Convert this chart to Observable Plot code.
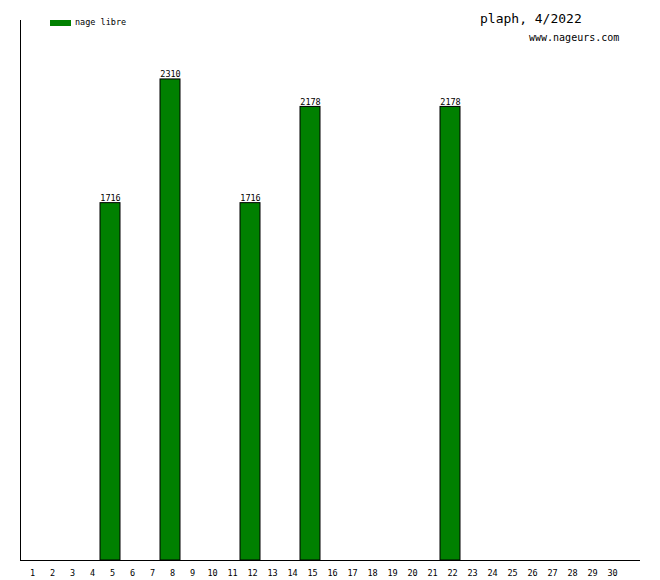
<!DOCTYPE html>
<html>
<head>
<meta charset="utf-8">
<script src="https://cdn.jsdelivr.net/npm/d3@7"></script>
<script src="https://cdn.jsdelivr.net/npm/@observablehq/plot@0.6"></script>
<style>
  body { margin: 0; background: #fff; }
  #wrap { position: relative; width: 660px; height: 580px; font-family: "DejaVu Sans Mono", monospace; }
  #wrap svg { position: absolute; left: 0; top: 0; }
  .ov { position: absolute; white-space: nowrap; color: #000; }
</style>
</head>
<body>
<div id="wrap">
  <div class="ov" style="left:50px;top:20px;width:21px;height:6px;background:#008000;"></div>
  <div class="ov" style="left:75px;top:17px;font-size:8.5px;line-height:10px;">nage libre</div>
  <div class="ov" style="left:480px;top:11px;font-size:13px;line-height:16px;">plaph, 4/2022</div>
  <div class="ov" style="left:529px;top:32px;font-size:10px;line-height:12px;">www.nageurs.com</div>
</div>
<script>
const seriesName = "nage libre";
const days = [5, 8, 12, 15, 22];
const distances = [1716, 2310, 1716, 2178, 2178];
const dayTicks = d3.range(1, 31);

const data = days.map((d, i) => ({day: d, value: distances[i]}));

const chart = Plot.plot({
  width: 660,
  height: 580,
  marginTop: 20,
  marginBottom: 20,
  marginLeft: 20,
  marginRight: 20,
  style: {fontFamily: "DejaVu Sans Mono, monospace", fontSize: "8.5px", background: "transparent"},
  x: {type: "linear", domain: [0.5, 30.5], range: [20, 620]},
  y: {domain: [0, 2593], axis: null},
  marks: [
    Plot.rectY(data, {x1: d => d.day - 0.5, x2: d => d.day + 0.5, y1: 0, y2: "value", fill: "#008000", stroke: "#000", strokeWidth: 1}),
    Plot.text(data, {x: "day", y: "value", text: d => String(d.value), lineAnchor: "bottom", dy: -2, fill: "#000", fontSize: 8.5}),
    Plot.ruleY([0], {stroke: "#000"}),
    Plot.ruleX([0.5], {stroke: "#000"}),
    Plot.axisX({ticks: dayTicks, tickFormat: d => String(d), tickSize: 0, tickPadding: 9, label: null, dx: 2, fill: "#000"})
  ]
});
document.getElementById("wrap").prepend(chart);
</script>
</body>
</html>
